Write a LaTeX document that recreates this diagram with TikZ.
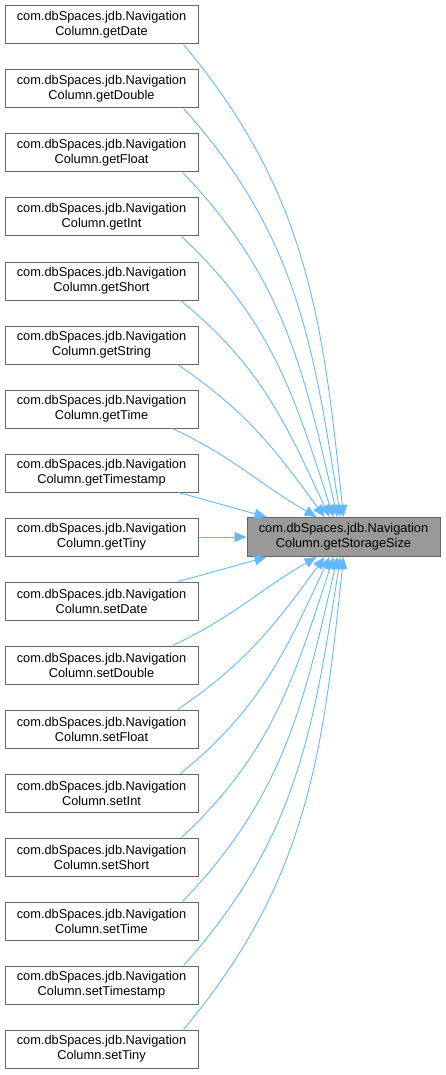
\documentclass[tikz,border=0pt]{standalone}
\usepackage{fontspec}
\setmainfont{Liberation Sans}
\usetikzlibrary{arrows.meta}
\definecolor{edgeblue}{HTML}{63B8FF}
\definecolor{boxborder}{HTML}{666666}
\definecolor{tgtfill}{HTML}{999999}
\tikzset{
  fnbox/.style={draw=boxborder, fill=white, line width=1pt, minimum width=193pt, minimum height=38pt, inner sep=0pt, align=center, font=\fontsize{12.8}{15}\selectfont},
  tgtbox/.style={fnbox, fill=tgtfill, minimum height=39pt},
  calledge/.style={draw=edgeblue, line width=0.9pt, -{Triangle[length=12pt,width=10pt]}}
}
\begin{document}
\begin{tikzpicture}[x=1pt,y=-1pt]
\useasboundingbox (0,0) rectangle (445,1075);
\node[tgtbox] (t) at (343.5,537) {com.dbSpaces.jdb.Navigation\\Column.getStorageSize};
\foreach \i/\n in {0/getDate,1/getDouble,2/getFloat,3/getInt,4/getShort,5/getString,6/getTime,7/getTimestamp,8/getTiny,9/setDate,10/setDouble,11/setFloat,12/setInt,13/setShort,14/setTime,15/setTimestamp,16/setTiny}{
  \node[fnbox] (s\i) at (101.5,{25+64*\i}) {com.dbSpaces.jdb.Navigation\\Column.\n};
}
% upper rows
\draw[calledge] ([xshift=-15pt]s0.south east) to[out=-50,in=96] ([xshift=97pt]t.north west);
\draw[calledge] ([xshift=-15pt]s1.south east) to[out=-48,in=99] ([xshift=94pt]t.north west);
\draw[calledge] ([xshift=-16pt]s2.south east) to[out=-46,in=103] ([xshift=91pt]t.north west);
\draw[calledge] ([xshift=-17pt]s3.south east) to[out=-43,in=108] ([xshift=87pt]t.north west);
\draw[calledge] ([xshift=-18pt]s4.south east) to[out=-39,in=115] ([xshift=83pt]t.north west);
\draw[calledge] ([xshift=-21pt]s5.south east) to[out=-34,in=126] ([xshift=78pt]t.north west);
\draw[calledge] ([xshift=-26pt]s6.south east) to[out=-25,in=150] ([xshift=70pt]t.north west);
\draw[calledge] ([xshift=-20pt]s7.south east) -- ([xshift=20pt]t.north west);
% middle
\draw[calledge] (s8.east) -- (t.west);
% lower rows
\draw[calledge] ([xshift=-20pt]s9.north east) -- ([xshift=20pt]t.south west);
\draw[calledge] ([xshift=-26pt]s10.north east) to[out=25,in=-150] ([xshift=70pt]t.south west);
\draw[calledge] ([xshift=-21pt]s11.north east) to[out=34,in=-126] ([xshift=78pt]t.south west);
\draw[calledge] ([xshift=-18pt]s12.north east) to[out=39,in=-115] ([xshift=83pt]t.south west);
\draw[calledge] ([xshift=-17pt]s13.north east) to[out=43,in=-108] ([xshift=87pt]t.south west);
\draw[calledge] ([xshift=-16pt]s14.north east) to[out=46,in=-103] ([xshift=91pt]t.south west);
\draw[calledge] ([xshift=-15pt]s15.north east) to[out=48,in=-99] ([xshift=94pt]t.south west);
\draw[calledge] ([xshift=-15pt]s16.north east) to[out=50,in=-96] ([xshift=97pt]t.south west);
\end{tikzpicture}
\end{document}
